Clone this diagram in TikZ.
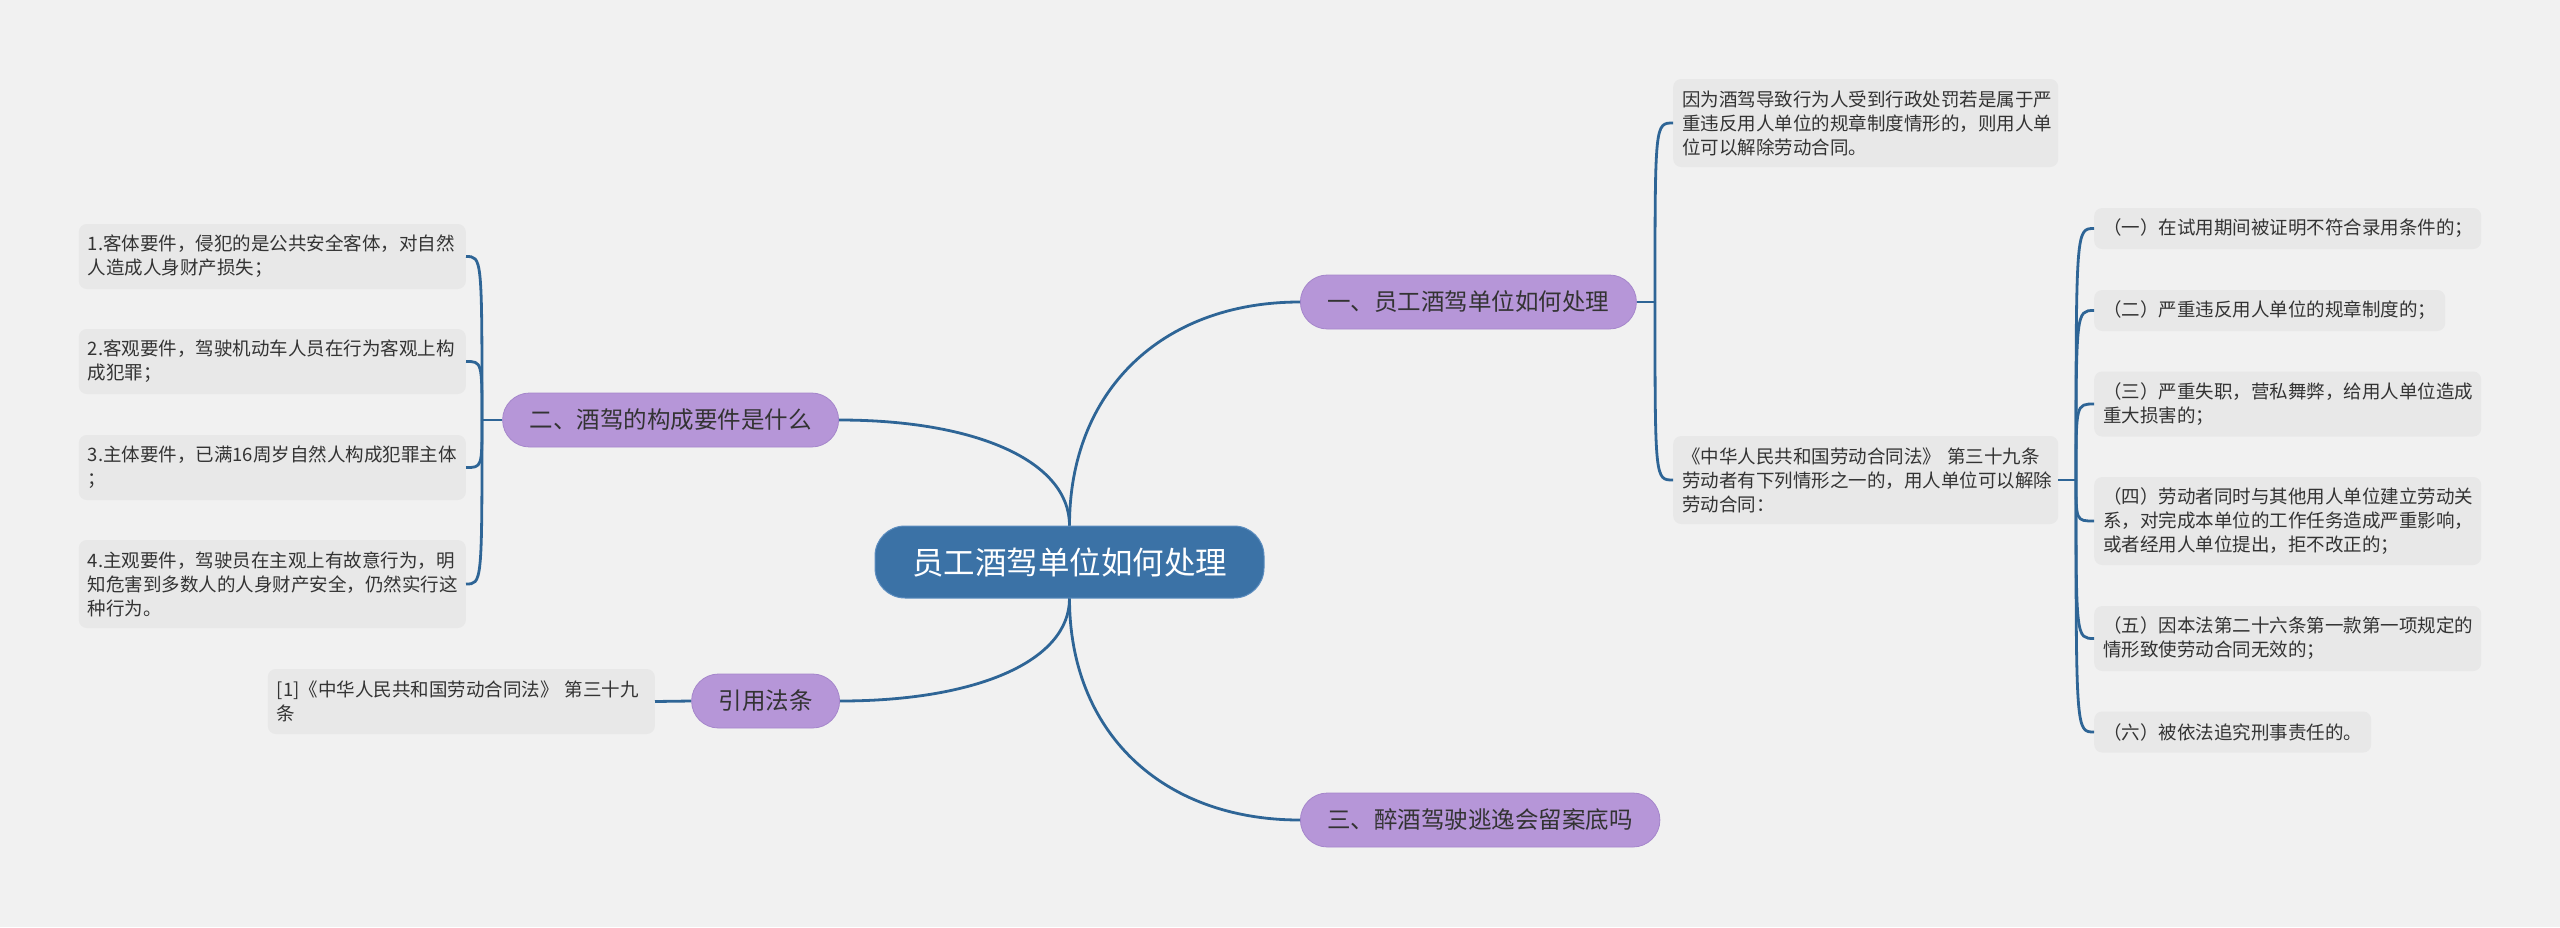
\documentclass[tikz,border=0pt]{standalone}
\usepackage{fontspec}
\setmainfont{Noto Sans CJK SC}
\definecolor{bg}{HTML}{F1F1F1}
\definecolor{linec}{HTML}{2E6596}
\definecolor{rootc}{HTML}{3B72A6}
\definecolor{rootedge}{HTML}{5C8DBF}
\definecolor{purp}{HTML}{B696D8}
\definecolor{purpedge}{HTML}{A586CB}
\definecolor{boxc}{HTML}{E8E8E8}
\definecolor{txt}{HTML}{333333}
\begin{document}
\begin{tikzpicture}[x=1pt,y=-1pt,
  conn/.style={draw=linec, line width=2.8pt},
  rootnode/.style={rounded corners=30pt, fill=rootc, draw=rootedge, line width=1pt, text=white,
    font=\fontsize{31.5}{36}\selectfont, minimum height=72pt, inner xsep=37pt, inner ysep=0pt},
  topic/.style={rounded corners=27pt, fill=purp, draw=purpedge, line width=0.8pt, text=txt,
    font=\fontsize{23.5}{28}\selectfont, minimum height=54pt, inner xsep=27pt, inner ysep=0pt},
  leaf/.style={rounded corners=8pt, fill=boxc, text=txt, font=\fontsize{18.5}{24}\selectfont,
    align=left, inner xsep=9pt, inner ysep=0pt},
]
\useasboundingbox (0,0) rectangle (2560,927);
\fill[bg] (0,0) rectangle (2560,927);

% nodes
\node[rootnode] (root) at (1069.5,562) {员工酒驾单位如何处理};
\node[topic, anchor=west] (t1) at (1300,302) {一、员工酒驾单位如何处理};
\node[topic, anchor=east] (t2) at (839,420) {二、酒驾的构成要件是什么};
\node[topic, anchor=west] (t3) at (1300,820) {三、醉酒驾驶逃逸会留案底吗};
\node[topic, anchor=east] (t4) at (840,701) {引用法条};

\node[leaf, text width=369pt, minimum height=65pt, anchor=east] (l1) at (466,256.5)
  {1.客体要件，侵犯的是公共安全客体，对自然\\人造成人身财产损失；};
\node[leaf, text width=369pt, minimum height=65pt, anchor=east] (l2) at (466,361.5)
  {2.客观要件，驾驶机动车人员在行为客观上构\\成犯罪；};
\node[leaf, text width=369pt, minimum height=65pt, anchor=east] (l3) at (466,467.5)
  {3.主体要件，已满16周岁自然人构成犯罪主体\\；};
\node[leaf, text width=369pt, minimum height=88pt, anchor=east] (l4) at (466,584)
  {4.主观要件，驾驶员在主观上有故意行为，明\\知危害到多数人的人身财产安全，仍然实行这\\种行为。};
\node[leaf, text width=369pt, minimum height=65pt, anchor=east] (ref) at (655,701.5)
  {[1]《中华人民共和国劳动合同法》~第三十九\\条};

\node[leaf, text width=367pt, minimum height=88pt, anchor=west] (r1) at (1673,123)
  {因为酒驾导致行为人受到行政处罚若是属于严\\重违反用人单位的规章制度情形的，则用人单\\位可以解除劳动合同。};
\node[leaf, text width=367pt, minimum height=88pt, anchor=west] (r2) at (1673,480)
  {《中华人民共和国劳动合同法》~第三十九条\\劳动者有下列情形之一的，用人单位可以解除\\劳动合同：};

\node[leaf, text width=369pt, minimum height=41pt, anchor=west] (s1) at (2094,228.5)
  {（一）在试用期间被证明不符合录用条件的；};
\node[leaf, text width=333pt, minimum height=41pt, anchor=west] (s2) at (2094,310.5)
  {（二）严重违反用人单位的规章制度的；};
\node[leaf, text width=369pt, minimum height=65pt, anchor=west] (s3) at (2094,404)
  {（三）严重失职，营私舞弊，给用人单位造成\\重大损害的；};
\node[leaf, text width=369pt, minimum height=88pt, anchor=west] (s4) at (2094,521)
  {（四）劳动者同时与其他用人单位建立劳动关\\系，对完成本单位的工作任务造成严重影响，\\或者经用人单位提出，拒不改正的；};
\node[leaf, text width=369pt, minimum height=65pt, anchor=west] (s5) at (2094,638.5)
  {（五）因本法第二十六条第一款第一项规定的\\情形致使劳动合同无效的；};
\node[leaf, text width=259pt, minimum height=41pt, anchor=west] (s6) at (2094,732)
  {（六）被依法追究刑事责任的。};

% root connectors
\draw[conn] (root.north) .. controls +(0,-134) and +(-139,0) .. (t1.west);
\draw[conn] (root.north) .. controls +(0,-64) and +(138,0) .. (t2.east);
\draw[conn] (root.south) .. controls +(0,133) and +(-139,0) .. (t3.west);
\draw[conn] (root.south) .. controls +(0,62) and +(138,0) .. (t4.east);

% bracket for t1
\coordinate (b1) at (1655,302);
\draw[conn] (t1.east) -- (b1);
\foreach \c in {r1,r2}
  \draw[conn] (b1) .. controls (b1 |- \c.west) and (b1 |- \c.west) .. (\c.west);

% bracket for t2
\coordinate (b2) at (482,420);
\draw[conn] (t2.west) -- (b2);
\foreach \c in {l1,l2,l3,l4}
  \draw[conn] (b2) .. controls (b2 |- \c.east) and (b2 |- \c.east) .. (\c.east);

% bracket for r2
\coordinate (b3) at (2076,480);
\draw[conn] (r2.east) -- (b3);
\foreach \c in {s1,s2,s3,s4,s5,s6}
  \draw[conn] (b3) .. controls (b3 |- \c.west) and (b3 |- \c.west) .. (\c.west);

% reference
\draw[conn] (t4.west) -- (ref.east);
\end{tikzpicture}
\end{document}
